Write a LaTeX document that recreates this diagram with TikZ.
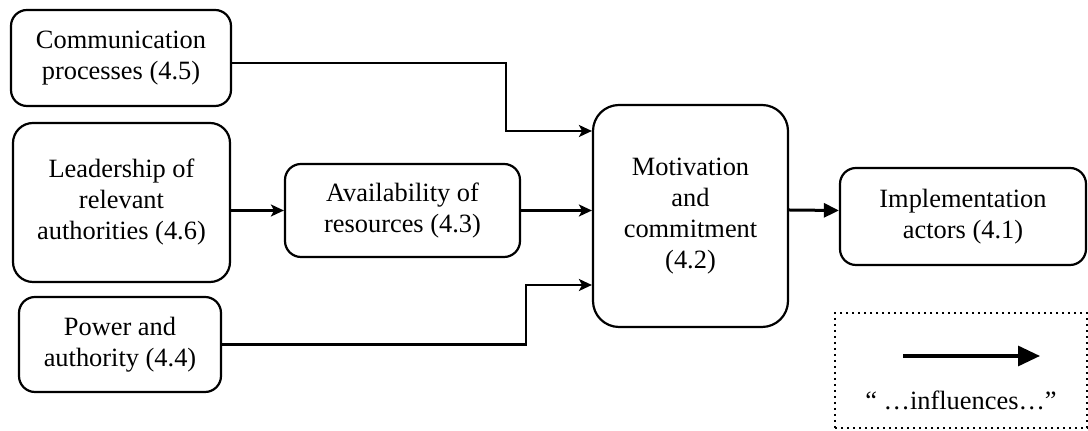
\documentclass[tikz,border=0pt]{standalone}
\usepackage{fontspec}
\setmainfont{Liberation Serif}
\usetikzlibrary{arrows.meta,calc}
\begin{document}
\begin{tikzpicture}[x=0.5pt,y=-0.5pt,
  every node/.style={font=\fontsize{13.2pt}{15.5pt}\selectfont},
  box/.style={draw,line width=1.1pt,rounded corners=8pt,align=center,inner sep=0pt},
  bigbox/.style={box,rounded corners=13pt},
  arr/.style={line width=1.1pt,-{Stealth[length=6.5pt,width=6pt,inset=1.6pt]}},
  boldarr/.style={line width=1.5pt,-{Triangle[length=7.5pt,width=7pt]}},
  keybox/.style={draw,dotted,line width=1pt,inner sep=0pt}]
\useasboundingbox (0,0) rectangle (1088,431);

% factor boxes
\node[box,minimum width=110pt,minimum height=48pt] (comm) at (121,58)
  {Communication\\processes (4.5)};
\node[box,minimum width=108.5pt,minimum height=79.5pt,rounded corners=10pt] (lead) at (121.5,202.5)
  {Leadership of\\relevant\\authorities (4.6)};
\node[box,minimum width=101pt,minimum height=47.5pt] (power) at (120,344.5)
  {Power and\\authority (4.4)};
\node[box,minimum width=117.5pt,minimum height=46.5pt] (avail) at (402.5,210.5)
  {Availability of\\resources (4.3)};
\node[bigbox,minimum width=97.5pt,minimum height=111pt] (mot) at (690.5,216)
  {Motivation\\and\\commitment\\(4.2)};
\node[box,minimum width=123pt,minimum height=48.5pt] (impl) at (963,216.5)
  {Implementation\\actors (4.1)};

% bend points of the routed connectors
\coordinate (c1) at ($(comm.east)+(274,5)$);
\coordinate (c2) at (526,344.5);

\draw[arr] ($(comm.east)+(0,5)$) -- (c1) |- ($(mot.west)+(0,-85)$);
\draw[arr] (lead.east |- avail.west) -- (avail.west);
\draw[arr] (avail.east) -- (mot.west |- avail.east);
\draw[arr] (power.east) -- (c2) |- ($(mot.west)+(0,69)$);
\draw[boldarr] ($(mot.east)+(0,-6)$) -- ($(impl.west)+(0,-6)$);

% key
\node[keybox,minimum width=126pt,minimum height=57.5pt] (key) at (961,370.5) {};
\coordinate (k1) at (903,356);
\coordinate (k2) at (1040,356);
\draw[line width=1.6pt,-{Triangle[length=11pt,width=10pt]}] (k1) -- (k2);
\node (keytext) at (961,400) {“ …influences…”};
\end{tikzpicture}
\end{document}
